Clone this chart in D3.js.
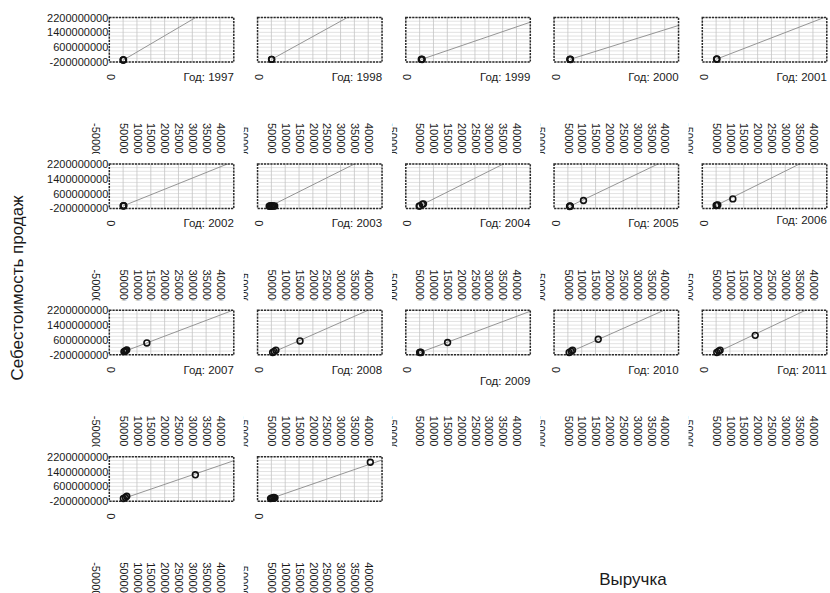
<!DOCTYPE html>
<html><head><meta charset="utf-8">
<script src="https://cdn.jsdelivr.net/npm/d3@7/dist/d3.min.js"></script>
<style>
body{margin:0;background:#fff}
text{font-family:Arial,"Liberation Sans",sans-serif;fill:#1a1a1a}
</style>
</head><body>
<svg id="c" width="830" height="593"></svg>
<script>
// ---- data (values in millions) ----
const years = [1997,1998,1999,2000,2001,2002,2003,2004,2005,2006,2007,2008,2009,2010,2011,2012,2013];
const captionYears = [1997,1998,1999,2000,2001,2002,2003,2004,2005,2006,2007,2008,2009,2010,2011];
const revenue = [
  [500,508,515],
  [505,512],
  [560,575,590],
  [570,585,595],
  [515,530],
  [500,515,525],
  [420,460,500,540,580,620],
  [483,500,600,639],
  [560,575,590,1064],
  [500,523,560,1104],
  [530,560,600,632,1358],
  [545,600,664,1535],
  [500,530,550,1510],
  [545,620,668,1597],
  [523,590,643,1913],
  [508,580,632,3111],
  [470,510,550,590,630,4076]
];
const cost = [
  [-90,-93,-85],
  [-56,-60],
  [-60,-50,-65],
  [-60,-50,-62],
  [-45,-40],
  [-65,-55,-60],
  [-85,-60,-80,-55,-75,-70],
  [-77,-70,20,45],
  [-95,-70,-85,226],
  [-40,-24,-10,312],
  [-30,-15,30,67,440],
  [-72,-20,50,546],
  [-80,-65,-72,461],
  [-72,-10,50,637],
  [-72,0,50,850],
  [-56,0,67,1223],
  [-60,-25,-50,0,-20,1900]
];
const slope = [0.877,0.824,0.51,0.466,0.577,0.60,0.747,0.747,0.715,0.742,0.566,0.659,0.558,0.663,0.709,0.511,0.516];
const intercept = [-539,-475,-347,-327,-342,-366,-421,-438,-492,-412,-327,-431,-362,-433,-443,-316,-300];
const yTicks = [-200,600,1400,2200];
const yMinor = [-200,0,200,400,600,800,1000,1200,1400,1600,1800,2000,2200];
const xTicks = [-500,500,1000,1500,2000,2500,3000,3500,4000];
const xGrid = [500,1000,1500,2000,2500,3000,3500,4000];
const xDomain = [0,4500];
const yDomain = [-200,2200];
const yTitle = "Себестоимость продаж";
const xTitle = "Выручка";

// ---- layout ----
const W=124.5, H=44.5, L0=109.3, T0=17.5, DX=148.25, DY=146.4;
const captionShift = {2006:-3,2009:11};
const svg = d3.select("#c");
const x = d3.scaleLinear().domain(xDomain).range([0,W]);
const y = d3.scaleLinear().domain(yDomain).range([H,0]);
const full = v => String(Math.round(v*1e6));

years.forEach((yr,i)=>{
  const col=i%5, row=Math.floor(i/5);
  const g=svg.append("g").attr("transform",`translate(${L0+col*DX},${T0+row*DY})`);
  const cid="clip"+i, lid="lclip"+i;
  g.append("clipPath").attr("id",cid).append("rect").attr("width",W).attr("height",H);
  g.append("clipPath").attr("id",lid).append("rect")
    .attr("x",col===0?-60:x(-500)).attr("y",H+45).attr("width",col===0?200:W+20).attr("height",47);

  // grid
  g.append("g").selectAll("line").data(yMinor).join("line")
    .attr("x1",0).attr("x2",W).attr("y1",d=>y(d)).attr("y2",d=>y(d))
    .attr("stroke","#d6d6d6").attr("stroke-width",0.7);
  g.append("g").selectAll("line").data(xGrid).join("line")
    .attr("x1",d=>x(d)).attr("x2",d=>x(d)).attr("y1",0).attr("y2",H)
    .attr("stroke","#c4c4c4").attr("stroke-width",0.8);

  // regression line
  const x0 = d3.min(revenue[i]);
  g.append("path").attr("clip-path",`url(#${cid})`)
    .datum([x0,xDomain[1]])
    .attr("d",d3.line().x(d=>x(d)).y(d=>y(slope[i]*d+intercept[i])))
    .attr("fill","none").attr("stroke","#8a8a8a").attr("stroke-width",0.9);

  // frame
  g.append("rect").attr("width",W).attr("height",H).attr("fill","none")
    .attr("stroke","#2a2a2a").attr("stroke-width",1.5).attr("stroke-dasharray","2.2,1");

  // points
  g.append("g").selectAll("circle").data(revenue[i].map((r,k)=>[r,cost[i][k]])).join("circle")
    .attr("cx",d=>x(d[0])).attr("cy",d=>y(d[1])).attr("r",2.9)
    .attr("fill","none").attr("stroke","#111").attr("stroke-width",1.6);

  // y axis (first column)
  if(col===0){
    const ya=g.append("g").call(d3.axisLeft(y).tickValues(yTicks).tickSize(0).tickPadding(1).tickFormat(full));
    ya.select(".domain").remove();
    ya.selectAll("text").attr("font-size",11).attr("font-family",null);
  }

  // "0" label
  const za=g.append("g").attr("transform",`translate(0,${H})`)
    .call(d3.axisBottom(x).tickValues([0]).tickSize(0).tickFormat(d=>String(d)));
  za.select(".domain").remove();
  za.selectAll("text").attr("font-size",11).attr("font-family",null)
    .attr("x",0).attr("y",0).attr("dy","0.35em").attr("text-anchor","middle")
    .attr("transform","translate(1,15) rotate(90)");

  // rotated x tick labels (clipped)
  const xa=g.append("g").attr("clip-path",`url(#${lid})`)
    .append("g").attr("transform",`translate(0,${H})`)
    .call(d3.axisBottom(x).tickValues(xTicks).tickSize(0).tickFormat(full));
  xa.select(".domain").remove();
  xa.selectAll("text").attr("font-size",11).attr("font-family",null)
    .attr("x",0).attr("y",0).attr("dy","0.35em").attr("text-anchor","start")
    .attr("transform","translate(0,61) rotate(90)");

  // caption
  if(captionYears.includes(yr)){
    g.append("text").attr("x",W).attr("y",H+15+(captionShift[yr]||0)).attr("dy","0.35em")
      .attr("text-anchor","end").attr("font-size",11.5).text("Год: "+yr);
  }
});

svg.append("text").attr("transform","translate(17,288) rotate(-90)")
  .attr("text-anchor","middle").attr("dy","0.35em").attr("font-size",17).text(yTitle);
svg.append("text").attr("x",633).attr("y",579).attr("dy","0.35em")
  .attr("text-anchor","middle").attr("font-size",17).text(xTitle);
</script>
</body></html>
